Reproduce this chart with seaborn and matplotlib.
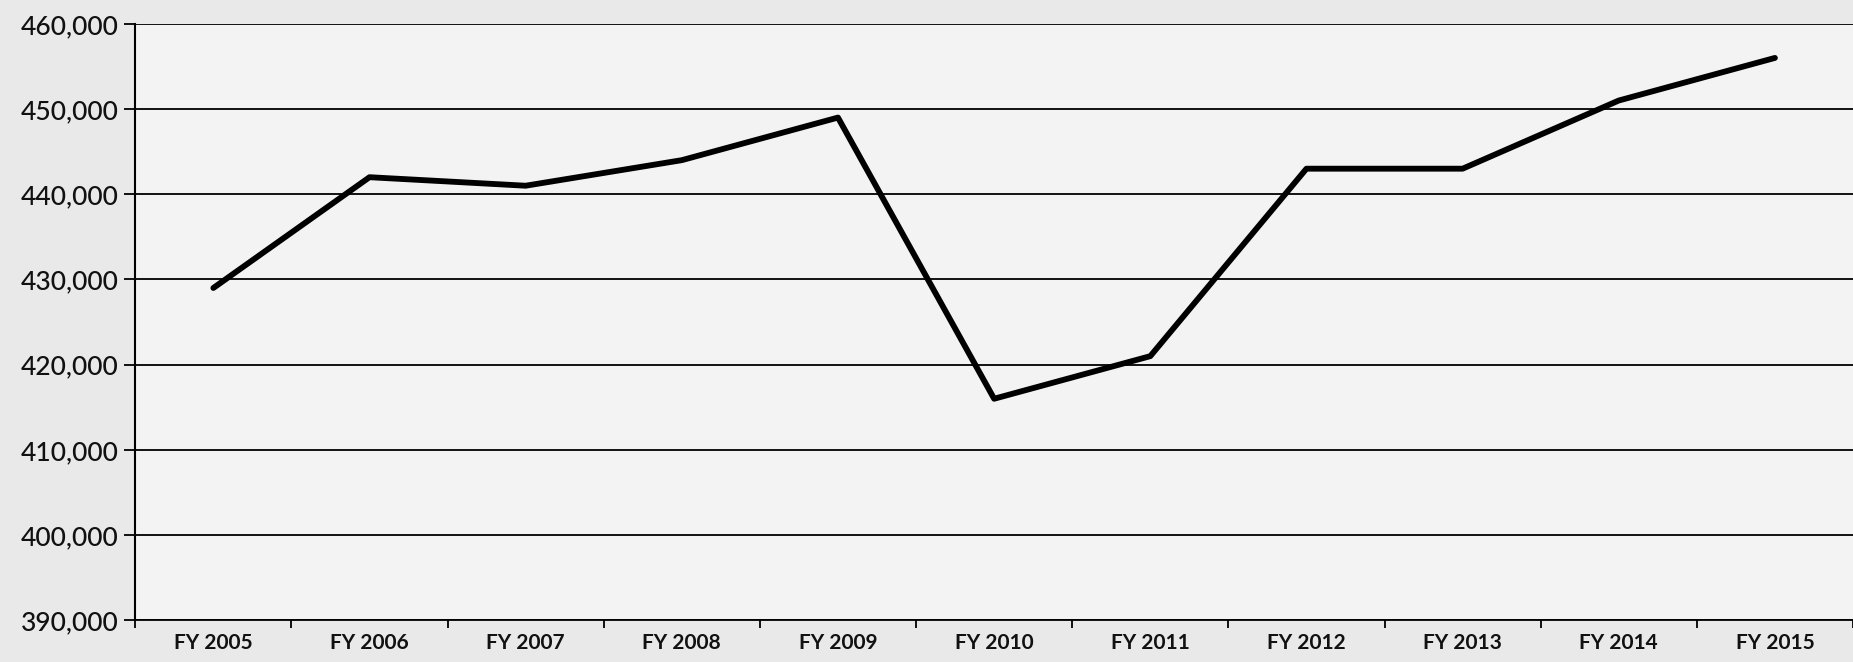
import numpy as np
import pandas as pd
import matplotlib
matplotlib.use('Agg')
import matplotlib.pyplot as plt
import seaborn as sns
from matplotlib.ticker import FuncFormatter, FixedLocator

years = ['FY 2005', 'FY 2006', 'FY 2007', 'FY 2008', 'FY 2009', 'FY 2010',
         'FY 2011', 'FY 2012', 'FY 2013', 'FY 2014', 'FY 2015']
values = [429000, 442000, 441000, 444000, 449000, 416000,
          421000, 443000, 443000, 451000, 456000]
y_ticks = [390000, 400000, 410000, 420000, 430000, 440000, 450000, 460000]

df = pd.DataFrame({'year': years, 'value': values})
df['pos'] = np.arange(len(df))

sns.set_style('white')
plt.rcParams['font.family'] = ['Lato', 'DejaVu Sans']

fig = plt.figure(figsize=(18.53, 6.62), dpi=100, facecolor='#e9e9e9')
ax = fig.add_axes([0.073, 0.063, 0.927, 0.901])
ax.set_facecolor('#f3f3f3')

# gridlines like the old excel chart
for t in y_ticks:
    ax.axhline(t, color='black', lw=1.3, zorder=1)

sns.lineplot(data=df, x='pos', y='value', color='black', lw=4.2,
             sort=False, ax=ax, zorder=3)

ax.set_ylim(390000, 460000)
ax.set_xlim(-0.5, len(years) - 0.5)
ax.set_yticks(y_ticks)
ax.yaxis.set_major_formatter(FuncFormatter(lambda v, p: f'{int(v):,}'))
ax.tick_params(axis='y', length=8, width=1.3, color='black', labelsize=19,
               pad=4, left=True, labelcolor='#111111')
for lab in ax.get_yticklabels():
    lab.set_fontweight('medium')

# ticks between categories, labels centred
ax.xaxis.set_major_locator(FixedLocator(np.arange(-0.5, len(years), 1.0)))
ax.xaxis.set_minor_locator(FixedLocator(df['pos']))
ax.set_xticklabels([])
ax.set_xticklabels(years, minor=True)
ax.tick_params(axis='x', which='major', length=6, width=1.3, color='black',
               bottom=True)
ax.tick_params(axis='x', which='minor', length=0, labelsize=15, pad=9,
               labelcolor='#111111')
for lab in ax.get_xticklabels(minor=True):
    lab.set_fontweight('bold')

ax.set_xlabel('')
ax.set_ylabel('')
for s in ['top', 'right']:
    ax.spines[s].set_visible(False)
ax.spines['left'].set_color('black')
ax.spines['left'].set_linewidth(1.5)
ax.spines['bottom'].set_color('black')
ax.spines['bottom'].set_linewidth(1.3)

fig.savefig('out.png', dpi=100, facecolor=fig.get_facecolor())
